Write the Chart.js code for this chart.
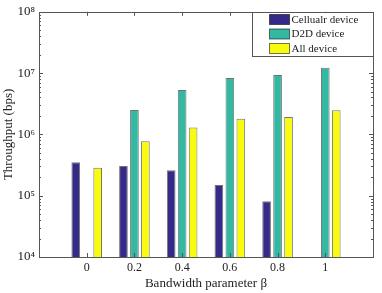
<!DOCTYPE html>
<html>
<head>
<meta charset="utf-8">
<script src="https://cdn.jsdelivr.net/npm/chart.js@4/dist/chart.umd.min.js"></script>
<style>
  html, body { margin: 0; padding: 0; background: #fff; }
  #wrap { width: 382px; height: 293px; }
</style>
</head>
<body>
<div id="wrap"><canvas id="barChart" width="382" height="293"></canvas></div>
<script>
// Data
const betaLabels = ['0', '0.2', '0.4', '0.6', '0.8', '1']
const cellularData = [3.5e5, 3.05e5, 2.6e5, 1.5e5, 8.1e4, null]
const d2dData = [null, 2.5e6, 5.3e6, 8.3e6, 9.3e6, 1.22e7]
const allData = [2.85e5, 7.7e5, 1.3e6, 1.8e6, 1.93e6, 2.47e6]
const yTickValues = [1e4, 1e5, 1e6, 1e7, 1e8]
const yTickLabels = ['10⁴', '10⁵', '10⁶', '10⁷', '10⁸']
const seriesNames = ['Cellualr device', 'D2D device', 'All device']
const seriesColors = ['#352a87', '#33b8a1', '#f9fb0e']

// one empty slot each side, like the matlab axis limits
const pad = arr => [null, ...arr, null]
const labels = ['', ...betaLabels, '']

Chart.defaults.font.family = "'Liberation Serif', 'Times New Roman', serif"
Chart.defaults.font.size = 12
Chart.defaults.color = '#222'

const axisColor = '#555'

// box + inward ticks (matlab style)
const frame = {
  id: 'frame',
  afterDatasetsDraw(chart) {
    const { ctx, chartArea: a, scales } = chart
    ctx.save()
    ctx.strokeStyle = axisColor
    ctx.lineWidth = 1
    ctx.beginPath()
    labels.forEach((l, i) => {
      if (!l) return
      const x = Math.round(scales.x.getPixelForValue(i)) + 0.5
      ctx.moveTo(x, a.bottom); ctx.lineTo(x, a.bottom - 4)
      ctx.moveTo(x, a.top); ctx.lineTo(x, a.top + 4)
    })
    const top = yTickValues[yTickValues.length - 1]
    yTickValues.forEach(base => {
      for (let m = 1; m < 10; m++) {
        const v = base * m
        if (v > top) break
        const y = Math.round(scales.y.getPixelForValue(v)) + 0.5
        const len = m === 1 ? 4 : 2
        ctx.moveTo(a.left, y); ctx.lineTo(a.left + len, y)
        ctx.moveTo(a.right, y); ctx.lineTo(a.right - len, y)
      }
    })
    ctx.stroke()
    ctx.strokeRect(Math.round(a.left) + 0.5, Math.round(a.top) + 0.5,
      Math.round(a.right - a.left), Math.round(a.bottom - a.top))
    ctx.restore()
  }
}

// legend inside the axes, top right
const boxLegend = {
  id: 'boxLegend',
  afterDraw(chart) {
    const { ctx, chartArea: a } = chart
    const w = 121, h = 44
    const left = Math.round(a.right - w) + 0.5
    const top = Math.round(a.top) + 0.5
    ctx.save()
    ctx.fillStyle = '#fff'
    ctx.fillRect(left, top, w, h)
    ctx.strokeStyle = axisColor
    ctx.lineWidth = 1
    ctx.strokeRect(left, top, w, h)
    ctx.font = "11px 'Liberation Serif'"
    ctx.textBaseline = 'middle'
    chart.data.datasets.forEach((ds, i) => {
      const cy = top + 7 + i * 14.5
      ctx.fillStyle = ds.backgroundColor
      ctx.fillRect(left + 17, cy - 5, 20, 10)
      ctx.strokeStyle = 'rgba(0,0,0,0.55)'
      ctx.strokeRect(left + 17, cy - 5, 20, 10)
      ctx.fillStyle = '#222'
      ctx.fillText(ds.label, left + 39, cy + 0.5)
    })
    ctx.restore()
  }
}

const barSeries = [cellularData, d2dData, allData]

const chart = new Chart(document.querySelector('#barChart').getContext('2d'), {
  type: 'bar',
  data: {
    labels: labels,
    datasets: barSeries.map((d, i) => ({
      label: seriesNames[i],
      data: pad(d),
      backgroundColor: seriesColors[i],
      borderColor: 'rgba(0,0,0,0.55)',
      borderWidth: 1,
      categoryPercentage: 0.69,
      barPercentage: 0.79
    }))
  },
  options: {
    responsive: false,
    animation: false,
    layout: { padding: { top: 9, right: 9, left: 0, bottom: 0 } },
    plugins: {
      legend: { display: false },
      tooltip: { enabled: false }
    },
    scales: {
      x: {
        offset: false,
        grid: { display: false, drawTicks: false },
        border: { display: false },
        ticks: { padding: 4, maxRotation: 0, autoSkip: false },
        title: {
          display: true,
          text: 'Bandwidth parameter β',
          font: { size: 13 },
          padding: { top: 0, bottom: 2 }
        },
        afterFit: s => { s.height = 36 }
      },
      y: {
        type: 'logarithmic',
        min: yTickValues[0],
        max: yTickValues[yTickValues.length - 1],
        grid: { display: false, drawTicks: false },
        border: { display: false },
        afterBuildTicks: s => { s.ticks = yTickValues.map(v => ({ value: v })) },
        ticks: {
          padding: 4,
          font: { size: 13 },
          callback: v => yTickLabels[yTickValues.indexOf(v)]
        },
        title: {
          display: true,
          text: 'Throughput (bps)',
          font: { size: 13 },
          padding: { top: 1, bottom: 0 }
        },
        afterFit: s => { s.width = 39 }
      }
    }
  },
  plugins: [frame, boxLegend]
})
</script>
</body>
</html>
